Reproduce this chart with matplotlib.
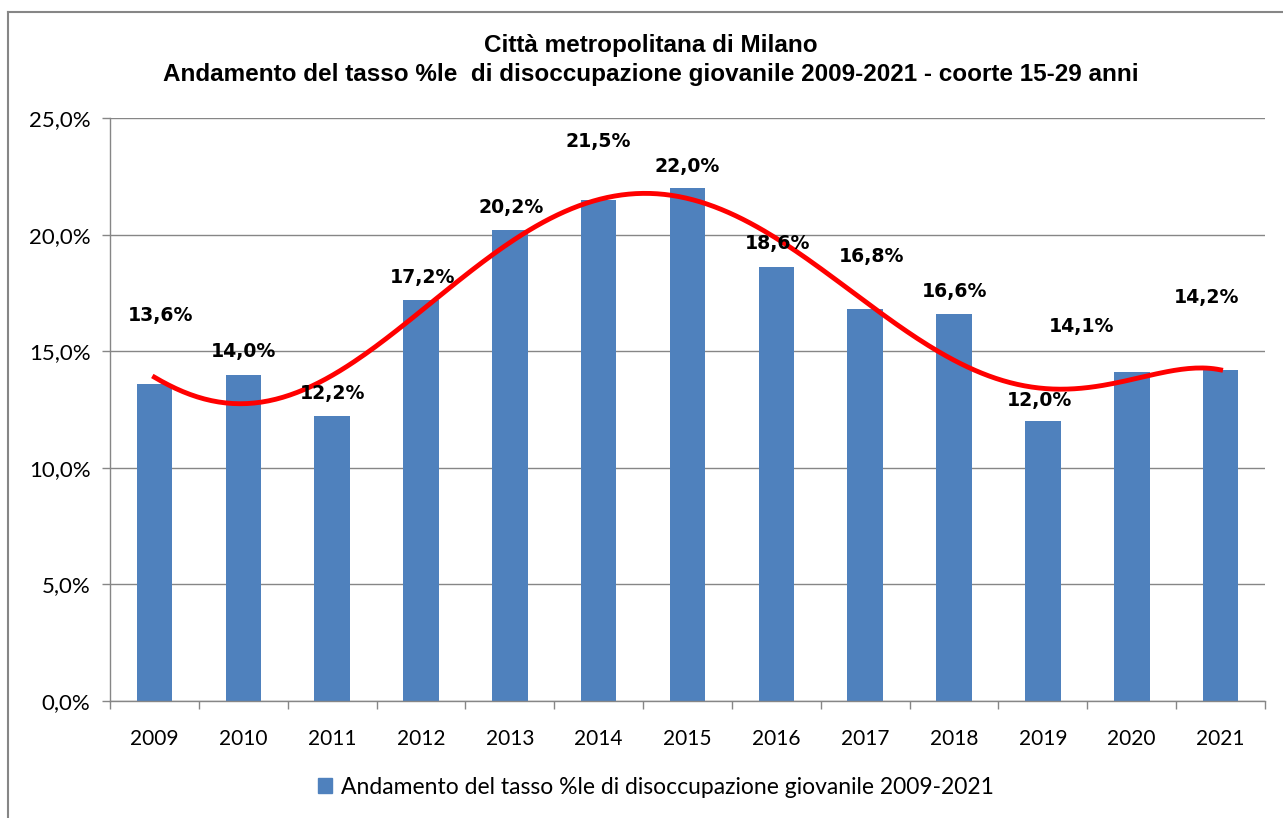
import matplotlib
matplotlib.use("Agg")
import matplotlib.pyplot as plt
from matplotlib.patches import Patch
from matplotlib.lines import Line2D
import numpy as np

# dati: tasso di disoccupazione giovanile 15-29 anni, Città metropolitana di Milano
anni = ["2009", "2010", "2011", "2012", "2013", "2014", "2015",
        "2016", "2017", "2018", "2019", "2020", "2021"]
tasso = [13.6, 14.0, 12.2, 17.2, 20.2, 21.5, 22.0, 18.6, 16.8, 16.6, 12.0, 14.1, 14.2]

titolo = ("Città metropolitana di Milano\n"
          "Andamento del tasso %le  di disoccupazione giovanile 2009-2021 - coorte 15-29 anni")
legenda = "Andamento del tasso %le di disoccupazione giovanile 2009-2021"

# posizione delle etichette (spostate a mano come nell'originale)
lab_dx = [0.07, 0.0, 0.0, 0.02, 0.01, 0.0, 0.0, 0.01, 0.07, 0.01, -0.04, -0.56, -0.16]
lab_y = [16.55, 14.97, 13.2, 18.18, 21.18, 24.0, 22.9, 19.6, 19.08, 17.54, 12.9, 16.08, 17.32]

blu = "#4F81BD"
grigio = "#868686"

fig = plt.figure(figsize=(12.83, 8.18), dpi=100)
ax = fig.add_axes([110/1283, 117/818, 1155/1283, 583/818])

x = np.arange(len(anni))
ax.bar(x, tasso, width=0.4, color=blu, zorder=2)

# linea di tendenza polinomiale
coef = np.polyfit(x, tasso, 6)
xs = np.linspace(0, len(anni) - 1, 300)
ax.plot(xs, np.polyval(coef, xs), color="red", lw=3.5, zorder=3)

for i, v in enumerate(tasso):
    ax.text(x[i] + lab_dx[i], lab_y[i], ("%.1f%%" % v).replace(".", ","),
            ha="center", va="center", fontsize=13.6, fontweight="bold",
            family="DejaVu Sans", color="black", zorder=4)

ax.set_xlim(-0.5, len(anni) - 0.5)
ax.set_ylim(0, 25)
ax.set_yticks(np.arange(0, 26, 5))
ax.set_yticklabels([("%.1f%%" % t).replace(".", ",") for t in np.arange(0, 26, 5)])
ax.set_xticks(x)
ax.set_xticklabels(anni)
ax.set_xticks(np.arange(-0.5, len(anni), 1), minor=True)
ax.tick_params(axis="x", which="major", length=0, pad=20, labelsize=15)
ax.tick_params(axis="x", which="minor", length=6, color=grigio, width=1)
ax.tick_params(axis="y", length=6, color=grigio, width=1, pad=8, labelsize=16)
for lab in ax.get_xticklabels() + ax.get_yticklabels():
    lab.set_family("Lato")

ax.grid(axis="y", color=grigio, lw=1, zorder=0)
ax.set_axisbelow(True)
for s in ["top", "right"]:
    ax.spines[s].set_visible(False)
for s in ["left", "bottom"]:
    ax.spines[s].set_color(grigio)
    ax.spines[s].set_linewidth(1)

fig.text(651/1283, 1 - 60/818, titolo, ha="center", va="center",
         fontsize=17.5, fontweight="bold", family="Liberation Sans",
         linespacing=1.3)

fig.legend(handles=[Patch(color=blu, label=legenda)], loc="center",
           bbox_to_anchor=(656/1283, 1 - 787/818), frameon=False,
           prop={"family": "Lato", "size": 16.5}, handlelength=0.6,
           handleheight=0.6, handletextpad=0.4)

# cornice esterna
fig.add_artist(Line2D([8/1283, 1], [1 - 12/818, 1 - 12/818], color=grigio, lw=1.5))
fig.add_artist(Line2D([8/1283, 8/1283], [0, 1 - 12/818], color=grigio, lw=1.5))

fig.savefig("out.png", dpi=100)
